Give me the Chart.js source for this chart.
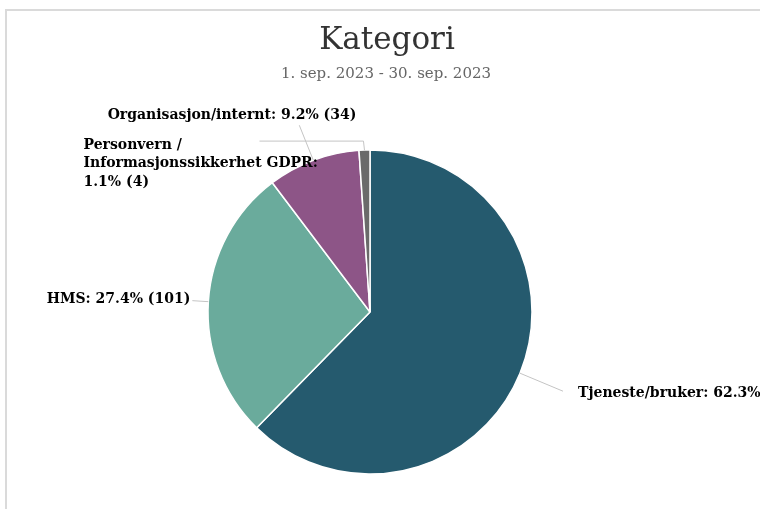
<!DOCTYPE html>
<html lang="no">
<head>
    <meta charset="UTF-8">
    <title>Kategori</title>
    <script src="https://cdn.jsdelivr.net/npm/chart.js"></script>
    <style>
        html, body { margin: 0; padding: 0; background: #fff; overflow: hidden; }
        .frame {
            position: absolute; left: 5px; top: 9px; width: 800px; height: 600px;
            border-top: 2px solid #dadada; border-left: 2px solid #dadada;
        }
        canvas { position: absolute; left: 0; top: 0; }
    </style>
</head>
<body>
    <div class="frame"></div>
    <canvas id="pieChart" width="760" height="509"></canvas>

    <script>
        const categories = ['Tjeneste/bruker', 'HMS', 'Organisasjon/internt', 'Personvern / Informasjonssikkerhet GDPR'];
        const counts = [230, 101, 34, 4];
        const colors = ['#255a6e', '#6aab9c', '#8d5587', '#6a6a6a'];
        const chartTitle = 'Kategori';
        const chartSubtitle = '1. sep. 2023 - 30. sep. 2023';

        // connector bends and text anchor, relative to the point on the slice edge
        const labelLayout = [
            { path: [[43, 18]], text: [58, 20], align: 'left' },
            { path: [[-16, -1]], text: [-18, -2], align: 'right' },
            { path: [[-14, -35]], text: [43, -45], align: 'right' },
            { path: [[-1, -9], [-105, -9]], text: [-281, -5], align: 'left', wrap: 258 }
        ];

        function wrapText(ctx, text, maxWidth) {
            const words = text.split(' ');
            const lines = [];
            let line = '';
            words.forEach(w => {
                const test = line ? line + ' ' + w : w;
                if (line && ctx.measureText(test).width > maxWidth) {
                    lines.push(line);
                    line = w;
                } else {
                    line = test;
                }
            });
            if (line) lines.push(line);
            return lines;
        }

        const pieLabels = {
            id: 'pieLabels',
            afterDatasetsDraw(chart) {
                const ctx = chart.ctx;
                const total = counts.reduce((a, b) => a + b, 0);
                const arcs = chart.getDatasetMeta(0).data;
                ctx.save();
                ctx.font = 'bold 14px "DejaVu Serif"';
                ctx.textBaseline = 'middle';
                arcs.forEach((arc, i) => {
                    const mid = (arc.startAngle + arc.endAngle) / 2;
                    const ex = arc.x + Math.cos(mid) * arc.outerRadius;
                    const ey = arc.y + Math.sin(mid) * arc.outerRadius;
                    const lay = labelLayout[i];

                    ctx.strokeStyle = '#c4c4c4';
                    ctx.lineWidth = 1;
                    ctx.beginPath();
                    ctx.moveTo(ex, ey);
                    lay.path.forEach(p => ctx.lineTo(ex + p[0], ey + p[1]));
                    ctx.stroke();

                    const pct = (counts[i] / total * 100).toFixed(1);
                    const text = categories[i] + ': ' + pct + '% (' + counts[i] + ')';
                    const lines = lay.wrap ? wrapText(ctx, text, lay.wrap) : [text];
                    ctx.fillStyle = '#000';
                    ctx.textAlign = lay.align;
                    lines.forEach((ln, k) => {
                        ctx.fillText(ln, ex + lay.text[0], ey + lay.text[1] + k * 18.5);
                    });
                });
                ctx.restore();
            },
            afterDraw(chart) {
                const ctx = chart.ctx;
                ctx.save();
                ctx.textAlign = 'center';
                ctx.textBaseline = 'alphabetic';
                ctx.fillStyle = '#333';
                ctx.font = '31px "DejaVu Serif"';
                ctx.fillText(chartTitle, 387, 49);
                ctx.fillStyle = '#666';
                ctx.font = '15px "DejaVu Serif"';
                ctx.fillText(chartSubtitle, 386, 78);
                ctx.restore();
            }
        };

        new Chart(document.getElementById('pieChart'), {
            type: 'pie',
            data: {
                labels: categories,
                datasets: [{
                    data: counts,
                    backgroundColor: colors,
                    borderColor: '#fff',
                    borderWidth: 1.5,
                    hoverOffset: 0
                }]
            },
            options: {
                responsive: false,
                animation: false,
                events: [],
                radius: 162,
                layout: { padding: { top: 150, bottom: 35, left: 100, right: 120 } },
                plugins: {
                    legend: { display: false },
                    tooltip: { enabled: false },
                    title: { display: false }
                }
            },
            plugins: [pieLabels]
        });
    </script>
</body>
</html>
